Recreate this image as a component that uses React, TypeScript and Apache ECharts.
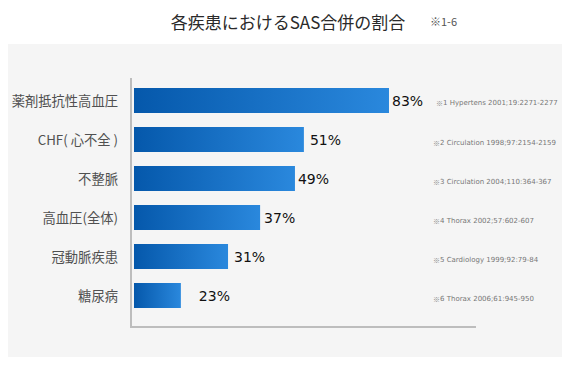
import React, { useEffect, useRef } from "react";
import * as echarts from "echarts";

const categories = ["薬剤抵抗性高血圧", "CHF( 心不全 )", "不整脈", "高血圧(全体)", "冠動脈疾患", "糖尿病"];
const percentLabels = ["83%", "51%", "49%", "37%", "31%", "23%"];
// visual bar lengths as drawn in the reference (axis units)
const barLengths = [82.7, 55.1, 52.2, 40.9, 30.5, 15.2];
const labelDistances = [3, 6, 3, 4, 6, 18];
const notes = [
  "※1 Hypertens 2001;19:2271-2277",
  "※2 Circulation 1998;97:2154-2159",
  "※3 Circulation 2004;110:364-367",
  "※4 Thorax 2002;57:602-607",
  "※5 Cardiology 1999;92:79-84",
  "※6 Thorax 2006;61:945-950",
];
const title = "各疾患におけるSAS合併の割合";
const titleNote = "※1-6";

const JP = '"Noto Sans CJK JP", "Noto Sans", sans-serif';
const DV = '"DejaVu Sans", "Noto Sans", sans-serif';

export default function App() {
  const ref = useRef<HTMLDivElement>(null);
  useEffect(() => {
    if (!ref.current) return;
    const chart = echarts.init(ref.current, null, { renderer: "svg" });
    const gradient = new echarts.graphic.LinearGradient(0, 0, 1, 0, [
      { offset: 0, color: "#0558ab" },
      { offset: 1, color: "#2a88dd" },
    ]);
    chart.setOption({
      animation: false,
      backgroundColor: "#ffffff",
      grid: { left: 134, top: 81, width: 296, height: 234, containLabel: false },
      xAxis: {
        type: "value",
        min: 0,
        max: 96,
        show: false,
      },
      yAxis: [
        {
          type: "category",
          inverse: true,
          data: categories,
          axisLine: { show: false },
          axisTick: { show: false },
          axisLabel: {
            margin: 16,
            fontSize: 13.3,
            color: "#505050",
            fontFamily: JP,
          },
        },
        {
          type: "category",
          inverse: true,
          position: "right",
          data: notes,
          axisLine: { show: false },
          axisTick: { show: false },
          axisLabel: {
            margin: 2,
            align: "left",
            fontFamily: DV,
            formatter: (v: string, i: number) => {
              const rest = v.replace("※", "");
              return i === 0 ? "{ma|※}{a|" + rest + "}" : "{mb|※}{b|" + rest + "}";
            },
            rich: {
              ma: { fontSize: 7, color: "#888", padding: [4, 0, 0, 4], fontFamily: JP },
              mb: { fontSize: 7, color: "#888", padding: [7, 0, 0, 1], fontFamily: JP },
              a: { fontSize: 7, color: "#777", padding: [4, 0, 0, 0], fontFamily: DV },
              b: { fontSize: 7, color: "#777", padding: [7, 0, 0, 0], fontFamily: DV },
            },
          },
        },
      ],
      graphic: [
        { type: "rect", z: -10, shape: { x: 3, y: 44, width: 564, height: 317 }, style: { fill: "#f5f5f5" } },
        { type: "line", z: 10, shape: { x1: 131, y1: 78, x2: 131, y2: 327 }, style: { stroke: "#bdbdbd", lineWidth: 2 } },
        { type: "line", z: 10, shape: { x1: 130, y1: 327, x2: 476, y2: 327 }, style: { stroke: "#bdbdbd", lineWidth: 2 } },
        {
          type: "text",
          x: 288,
          y: 21,
          style: {
            text: title,
            fontSize: 17,
            fill: "#2a2a2a",
            fontFamily: JP,
            align: "center",
            verticalAlign: "middle",
          },
        },
        {
          type: "text",
          x: 430,
          y: 21,
          style: {
            text: titleNote,
            fontSize: 11,
            fill: "#555",
            fontFamily: JP,
            align: "left",
            verticalAlign: "middle",
          },
        },
      ],
      series: [
        {
          type: "bar",
          barWidth: 25,
          data: barLengths.map((v, i) => ({
            value: v,
            label: { distance: labelDistances[i] },
          })),
          itemStyle: { color: gradient },
          label: {
            show: true,
            position: "right",
            formatter: (p: any) => percentLabels[p.dataIndex],
            fontSize: 14,
            color: "#111",
            fontFamily: DV,
          },
        },
      ],
    });
    return () => chart.dispose();
  }, []);
  return <div ref={ref} style={{ width: 570, height: 365, margin: -8 }} />;
}
